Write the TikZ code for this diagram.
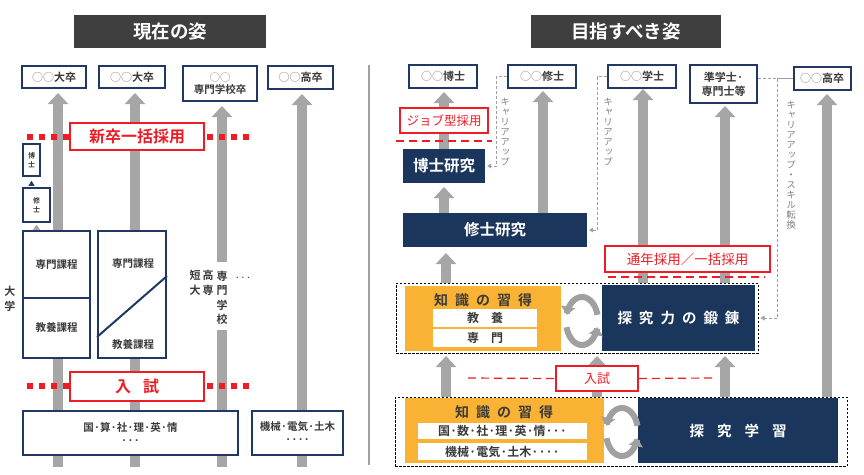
\documentclass[tikz,border=0pt]{standalone}
\usepackage{fontspec}
\setmainfont{Noto Sans CJK JP}[BoldFont={Noto Sans CJK JP Bold}]
\newfontfamily\jpv{Noto Sans CJK JP}[RawFeature=+vert]
\usetikzlibrary{arrows.meta}
\definecolor{navy}{HTML}{1F3864}
\definecolor{navyfill}{HTML}{1B365D}
\definecolor{agray}{HTML}{A6A6A6}
\definecolor{jred}{HTML}{EE1C25}
\definecolor{jorange}{HTML}{F9B233}
\definecolor{tgray}{HTML}{3F3F3F}
\definecolor{txt}{HTML}{3A3A3A}
\definecolor{lgray}{HTML}{808080}
\definecolor{cgray}{HTML}{A0A0A0}
\newcommand\oo{\textcolor{lgray}{\mdseries ○○}}
\begin{document}
\begin{tikzpicture}[x=1pt,y=-1pt,
  tbox/.style={draw=navy, line width=2pt, fill=white, inner sep=0pt, align=center,
    text=txt, font=\bfseries\fontsize{11}{12.5}\selectfont},
  titlebox/.style={fill=tgray, text=white, inner sep=0pt, font=\bfseries\fontsize{18.5}{20}\selectfont},
  rbox/.style={draw=jred, line width=2pt, fill=white, text=jred, inner sep=0pt},
  nbox/.style={fill=navyfill, text=white, inner sep=0pt, font=\bfseries\fontsize{15.5}{17}\selectfont},
  obox/.style={fill=jorange, inner sep=0pt},
  otitle/.style={text=txt, inner sep=0pt, font=\bfseries\fontsize{14}{15}\selectfont},
  wrow/.style={fill=white, text=txt, inner sep=0pt, font=\bfseries\fontsize{12}{13}\selectfont},
  garrow/.style={draw=agray, line width=10pt, -{Triangle[length=11pt 0 0,width=20pt 0 0]}},
  gshaft/.style={draw=agray, line width=10pt},
  cdash/.style={draw=cgray, line width=0.9pt, dash pattern=on 3pt off 2pt},
  ctip/.style={-{Triangle[length=4pt,width=5pt]}},
  vtxt/.style={align=center, inner sep=0pt, text=lgray, font=\jpv\fontsize{9.5}{10}\selectfont},
  vlab/.style={align=center, inner sep=0pt, text=txt, font=\bfseries\fontsize{11}{14.5}\selectfont},
  reddot/.style={draw=jred, line width=6pt, dash pattern=on 6pt off 6pt},
  reddash/.style={draw=jred, line width=1.2pt, dash pattern=on 8pt off 5pt},
  dbox/.style={draw=black, fill=white, line width=1pt, dash pattern=on 2.5pt off 1.5pt, inner sep=0pt},
  cyc/.style={draw=cgray, line width=6pt, -{Triangle[length=8pt 0 0,width=14pt 0 0]}},
  plain/.style={inner sep=0pt, text=txt, font=\bfseries\fontsize{10.5}{12}\selectfont}]
\useasboundingbox (0,0) rectangle (864,474);

% ================= LEFT: current =================
\node[titlebox, minimum width=192pt, minimum height=33pt] (t1) at (170,31.5) {現在の姿};
\draw[cgray, line width=1.5pt] (369,65) -- (369,465);

% gray arrows
\draw[garrow] (58,467) -- (58,93);
\draw[garrow] (135,467) -- (135,93);
\draw[gshaft] (222,467) -- (222,330);
\draw[garrow] (222,262) -- (222,106);
\draw[garrow] (302,467) -- (302,94);

% top boxes
\node[tbox, minimum width=64pt, minimum height=22pt] (a1) at (54,77) {\oo 大卒};
\node[tbox, minimum width=66pt, minimum height=22pt] (a2) at (132,77) {\oo 大卒};
\node[tbox, minimum width=74pt, minimum height=35pt, font=\bfseries\fontsize{10.5}{12}\selectfont] (a3) at (220,83.5) {\oo\\専門学校卒};
\node[tbox, minimum width=65pt, minimum height=23pt] (a4) at (300.5,77.5) {\oo 高卒};

% recruitment lines
\draw[reddot] (27,137) -- (252,137);
\node[rbox, minimum width=134pt, minimum height=27pt, font=\bfseries\fontsize{16}{17}\selectfont] (r1) at (137,136.5) {新卒一括採用};
\draw[reddot] (27,386) -- (252,386);
\node[rbox, minimum width=134pt, minimum height=29pt, font=\bfseries\fontsize{16}{17}\selectfont] (r2) at (137,386.5) {入\kern12pt 試};

% small doctor / master boxes
\node[tbox, line width=1.5pt, minimum width=17pt, minimum height=32pt, font=\bfseries\fontsize{7}{8.5}\selectfont] (hk) at (31.5,160) {博\\士};
\node[tbox, line width=1.5pt, minimum width=27pt, minimum height=34pt, font=\bfseries\fontsize{7}{8.5}\selectfont] (sh) at (36.5,205) {修\\士};
\draw[navy, line width=0.5pt, -{Triangle[length=5pt,width=6pt]}] ([yshift=3pt]sh.north -| hk.south) -- ([yshift=-4pt]hk.south);

% university boxes
\node[tbox, minimum width=67pt, minimum height=67pt, font=\bfseries\fontsize{10.5}{12}\selectfont] (L1a) at (56.5,264.5) {専門課程};
\node[tbox, minimum width=67pt, minimum height=60pt, font=\bfseries\fontsize{10.5}{12}\selectfont] (L1b) at (56.5,328) {教養課程};
\draw[agray, line width=0.5pt, -{Triangle[length=5pt,width=7pt]}] ([yshift=2pt]L1a.north -| sh.south) -- ([yshift=-2pt]sh.south);
\node[tbox, minimum width=68pt, minimum height=127pt] (L2) at (132,294.5) {};
\draw[navy, line width=2pt] ([yshift=22pt]L2.south west) -- ([yshift=-46pt]L2.north east);
\node[plain] (L2t1) at (133,264) {専門課程};
\node[plain] (L2t2) at (133,345) {教養課程};

\node[vlab] (dg) at (10,299) {大\\学};
\node[vlab] (tan) at (195,283) {短\\大};
\node[vlab] (kos) at (208,283) {高\\専};
\node[vlab] (sen) at (222,298) {専\\門\\学\\校};
\node[plain, font=\fontsize{10}{11}\selectfont] (etc) at (243,279) {···};

% bottom boxes
\node[tbox, minimum width=215pt, minimum height=44pt, font=\bfseries\fontsize{10.5}{13}\selectfont] (B1) at (130.5,433) {国·算·社·理·英·情\\···};
\node[tbox, minimum width=91pt, minimum height=44pt, font=\bfseries\fontsize{10.5}{13}\selectfont] (B2) at (297.5,433) {機械·電気·土木\\····};

% ================= RIGHT: target =================
\node[titlebox, minimum width=190pt, minimum height=33pt] (t2) at (626,31.5) {目指すべき姿};

% gray arrows
\draw[garrow] (444,149) -- (444,92);
\draw[garrow] (444,213) -- (444,187);
\draw[garrow] (543,213) -- (543,91);
\draw[garrow] (643,283) -- (643,89);
\draw[garrow] (725,283) -- (725,106);
\draw[garrow] (827,397) -- (827,94);
\draw[garrow] (446,283) -- (446,253);
\draw[garrow] (446,397) -- (446,356);
\draw[garrow] (597,397) -- (597,356);
\draw[garrow] (725,397) -- (725,356);

% top boxes
\node[tbox, minimum width=68pt, minimum height=23pt] (b1) at (443,76.5) {\oo 博士};
\node[tbox, minimum width=68pt, minimum height=23pt] (b2) at (542,76.5) {\oo 修士};
\node[tbox, minimum width=68pt, minimum height=23pt] (b3) at (642,76.5) {\oo 学士};
\node[tbox, minimum width=67pt, minimum height=38pt, font=\bfseries\fontsize{11}{14}\selectfont] (b4) at (723.5,84) {準学士·\\専門士等};
\node[tbox, minimum width=57pt, minimum height=23pt] (b5) at (822,78.5) {\oo 高卒};

% research boxes
\node[rbox, minimum width=88pt, minimum height=25pt, font=\fontsize{12.5}{13}\selectfont] (job) at (444,120.5) {ジョブ型採用};
\draw[reddash] (396,141) -- (492,141);
\node[nbox, minimum width=82pt, minimum height=34pt] (hr) at (444,166) {博士研究};
\node[nbox, minimum width=184pt, minimum height=34pt] (sr) at (495,230) {修士研究};

\node[rbox, minimum width=165pt, minimum height=26pt, font=\fontsize{13.5}{14}\selectfont] (tsu) at (687.5,259) {通年採用／一括採用};
\draw[reddash] (608,277) -- (765,277);

% career-up dashed connectors
\draw[cdash, ctip] (b2.west) -- ++(-11,0) |- ([xshift=2pt]hr.east);
\draw[cdash, ctip] (b3.west) -- ++(-10,0) |- ([xshift=2pt]sr.east);
\node[vtxt] (c1) at (505,132) {キ\\ャ\\リ\\ア\\ア\\ッ\\プ};
\node[vtxt] (c2) at (608,132) {キ\\ャ\\リ\\ア\\ア\\ッ\\プ};

% upper dashed group
\node[dbox, minimum width=362pt, minimum height=70pt] (D1) at (577,318) {};
\node[obox, minimum width=156pt, minimum height=65pt] (O1) at (483,318.5) {};
\node[otitle] (O1t) at (483,300) {知\kern7pt 識\kern7pt の\kern7pt 習\kern7pt 得};
\node[wrow, minimum width=104pt, minimum height=18pt] (O1a) at (485,318) {教\kern12pt 養};
\node[wrow, minimum width=104pt, minimum height=18pt] (O1b) at (485,338) {専\kern12pt 門};
\node[nbox, minimum width=153pt, minimum height=66pt, font=\bfseries\fontsize{14.5}{16}\selectfont] (N1) at (678.5,318) {探\kern7pt 究\kern7pt 力\kern7pt の\kern7pt 鍛\kern7pt 錬};
\draw[cyc] plot[domain=15:165, samples=40] ({582+16*cos(\x)}, {321-24*sin(\x)});
\draw[cyc] plot[domain=195:345, samples=40] ({582+16*cos(\x)}, {321-24*sin(\x)});

\draw[cdash] (b4.east |- b5.west) -- (b5.west);
\draw[cdash, ctip] (b5.west) -- ++(-15,0) |- ([xshift=2pt]D1.east);
\node[vtxt] (c3) at (791,165) {キ\\ャ\\リ\\ア\\ア\\ッ\\プ\\・\\ス\\キ\\ル\\転\\換};

% entrance exam
\node[rbox, minimum width=82pt, minimum height=25pt, font=\fontsize{13}{14}\selectfont] (nyu) at (597,378.5) {入試};
\draw[reddash] (468,378) -- (nyu.west);
\draw[reddash] (nyu.east) -- (712,378);

% lower dashed group
\node[dbox, minimum width=452pt, minimum height=69pt] (D2) at (621,431.5) {};
\node[obox, minimum width=199pt, minimum height=65pt] (O2) at (504.5,430.5) {};
\node[otitle] (O2t) at (504,412) {知\kern7pt 識\kern7pt の\kern7pt 習\kern7pt 得};
\node[wrow, minimum width=169pt, minimum height=16pt] (O2a) at (502.5,431) {国·数·社·理·英·情···};
\node[wrow, minimum width=169pt, minimum height=17pt] (O2b) at (502.5,451.5) {機械·電気·土木····};
\node[nbox, minimum width=200pt, minimum height=65pt, font=\bfseries\fontsize{14.5}{16}\selectfont] (N2) at (738,430.5) {探\kern13pt 究\kern13pt 学\kern13pt 習};
\draw[cyc] plot[domain=15:165, samples=40] ({622+16*cos(\x)}, {432-24*sin(\x)});
\draw[cyc] plot[domain=195:345, samples=40] ({622+16*cos(\x)}, {432-24*sin(\x)});
\end{tikzpicture}
\end{document}
